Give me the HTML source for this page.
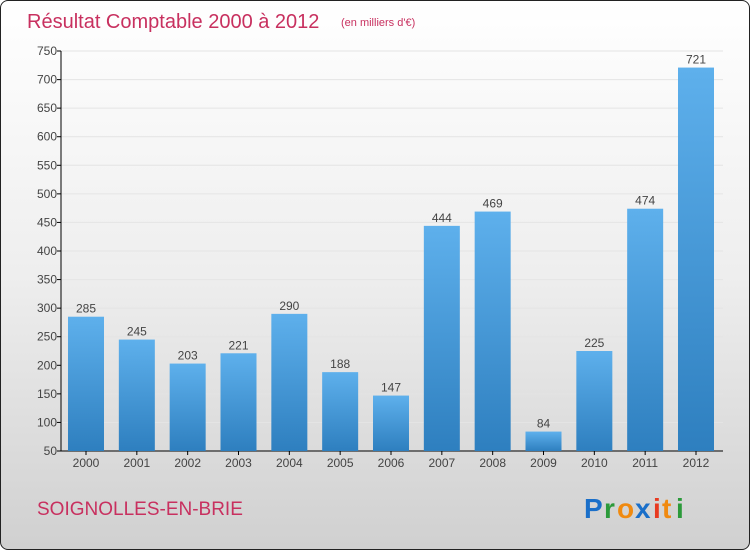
<!DOCTYPE html>
<html><head><meta charset="utf-8"><style>
html,body{margin:0;padding:0}
body{width:750px;height:550px;overflow:hidden;font-family:"Liberation Sans",sans-serif}
#frame{position:absolute;left:0;top:0;width:748px;height:548px;border:1px solid #222;border-radius:8px;background:linear-gradient(#ffffff 0%,#eeeeee 50%,#d0d0d0 100%);overflow:hidden}
</style></head><body>
<div id="frame">
<svg id="chart" width="750" height="550" xmlns="http://www.w3.org/2000/svg">
<defs><linearGradient id="bg" x1="0" y1="0" x2="0" y2="1"><stop offset="0" stop-color="#5eb0ec"/><stop offset="1" stop-color="#2e7fbf"/></linearGradient></defs>
<text x="26" y="27" font-size="20" fill="#c8305f">Résultat Comptable 2000 à 2012</text>
<text x="340" y="25" font-size="11" fill="#c8305f">(en milliers d'€)</text>
<text x="36" y="514" font-size="19" fill="#c8305f">SOIGNOLLES-EN-BRIE</text>
<g font-size="28" font-weight="bold" font-family="Liberation Sans, sans-serif">
<text x="583" y="517" fill="#1a6fc9">P</text><text x="603" y="517" fill="#2b9a3a">r</text><text x="616" y="517" fill="#f08a10">o</text><text x="634" y="517" fill="#1a6fc9">x</text><text x="652" y="517" fill="#e83a20">i</text><text x="661" y="517" fill="#f08a10">t</text><text x="675" y="517" fill="#2b9a3a">i</text>
</g>
<g id="axes"></g><g id="bars"></g>
</svg></div>
<script>
const years=["2000","2001","2002","2003","2004","2005","2006","2007","2008","2009","2010","2011","2012"];
const values=[285,245,203,221,290,188,147,444,469,84,225,474,721];
const yTicks=[50,100,150,200,250,300,350,400,450,500,550,600,650,700,750];
const NS="http://www.w3.org/2000/svg";
const yMin=50,yMax=750,plotTop=50,plotBot=450,x0=60,x1=722;
function y(v){return plotBot-(v-yMin)/(yMax-yMin)*(plotBot-plotTop);}
function xc(i){return 85+i*(695-85)/(years.length-1);}
function mk(t,a,p){const e=document.createElementNS(NS,t);for(const k in a)e.setAttribute(k,a[k]);p.appendChild(e);return e;}
const ax=document.getElementById('axes'),bg=document.getElementById('bars');
yTicks.forEach(v=>{
 const g=mk('line',{x1:x0,x2:x1,y1:y(v),y2:y(v),stroke:'#e4e4e4','stroke-width':1},ax);
 
 
 const tk=mk('line',{x1:x0-4,x2:x0,y1:y(v),y2:y(v),stroke:'#000'},ax);
 
 
 const t=mk('text',{x:x0-4,y:y(v)+4,'font-size':12,fill:'#444','text-anchor':'end'},ax);t.textContent=v;
 
 
});
const ya=mk('line',{x1:x0,x2:x0,y1:plotTop,y2:plotBot,stroke:'#000'},ax);


const xa=mk('line',{x1:x0,x2:x1,y1:plotBot,y2:plotBot,stroke:'#000'},ax);


years.forEach((yr,i)=>{
 const c=xc(i),v=values[i];
 const r=mk('rect',{x:c-18,y:y(v),width:36,height:plotBot-y(v),fill:'url(#bg)'},bg);
 
 
 const tk=mk('line',{x1:c,x2:c,y1:plotBot,y2:plotBot+4,stroke:'#000'},ax);
 
 
 const t=mk('text',{x:c,y:plotBot+16,'font-size':12,fill:'#444','text-anchor':'middle'},ax);t.textContent=yr;
 
 
 const l=mk('text',{x:c,y:y(v)-4,'font-size':12,fill:'#444','text-anchor':'middle'},bg);l.textContent=v;
 
 
});
</script>
</body></html>
